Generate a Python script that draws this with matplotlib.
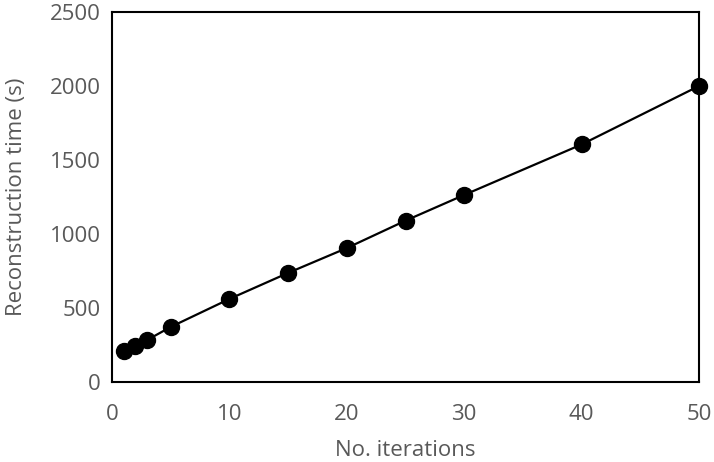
import matplotlib.pyplot as plt

# data
iterations = [1, 2, 3, 5, 10, 15, 20, 25, 30, 40, 50]
recon_time = [209, 243, 284, 372, 561, 737, 905, 1090, 1264, 1605, 2000]

plt.rcParams['font.family'] = ['Open Sans', 'DejaVu Sans']
grey = '#595959'

fig = plt.figure(figsize=(7.14, 4.62), dpi=100)
ax = fig.add_axes([112 / 714, 80 / 462, 587 / 714, 370 / 462])

ax.plot(iterations, recon_time, color='k', lw=1.6, marker='o', markersize=11.5,
        markerfacecolor='k', markeredgecolor='k', zorder=3, clip_on=False)

ax.set_xlim(0, 50)
ax.set_ylim(0, 2500)
ax.set_xticks(range(0, 51, 10))
ax.set_yticks(range(0, 2501, 500))
ax.tick_params(length=0, labelsize=16, colors=grey)
ax.tick_params(axis='y', pad=8)
ax.tick_params(axis='x', pad=16)
for s in ax.spines.values():
    s.set_linewidth(1.5)
    s.set_color('k')

ax.set_xlabel('No. iterations', fontsize=16, color=grey)
ax.set_ylabel('Reconstruction time (s)', fontsize=16, color=grey)
ax.xaxis.set_label_coords(0.5, -0.158)
ax.yaxis.set_label_coords(-0.145, 0.5)

fig.savefig('out.png', dpi=100)
